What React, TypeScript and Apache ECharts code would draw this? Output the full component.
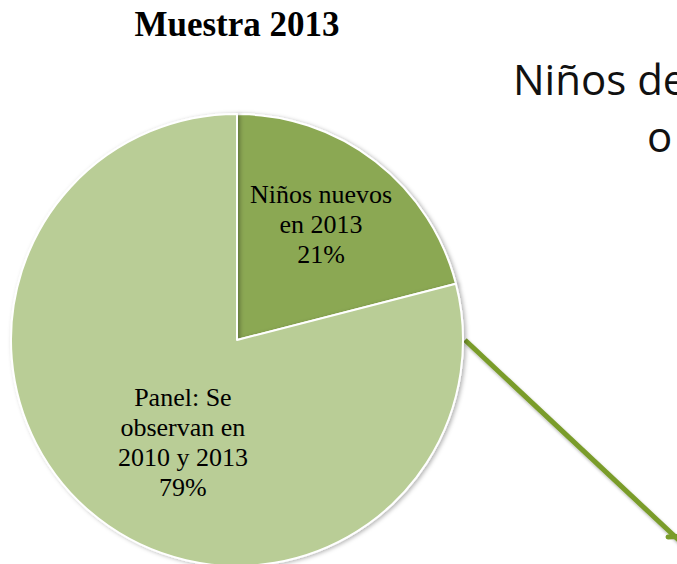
import React, { useEffect, useRef } from "react";
import * as echarts from "echarts";

const categories = ["Niños nuevos\nen 2013", "Panel: Se\nobservan en\n2010 y 2013"];
const values = [21, 79];
const colors = ["#8BA852", "#B9CD96"];
const labelOffsets = [[13, -24], [17, 11]];

export default function App() {
  const ref = useRef<HTMLDivElement>(null);
  useEffect(() => {
    if (!ref.current) return;
    const chart = echarts.init(ref.current, undefined, { renderer: "svg" });
    chart.setOption({
      animation: false,
      backgroundColor: "#ffffff",
      graphic: [
        {
          type: "text",
          x: 237,
          y: 24,
          style: {
            text: "Muestra 2013",
            fontFamily: "'Liberation Serif', 'Times New Roman', serif",
            fontWeight: "bold",
            fontSize: 35,
            fill: "#000",
            textAlign: "center",
            textVerticalAlign: "middle",
          },
        },
        {
          type: "text",
          x: 513,
          y: 78,
          style: {
            text: "Niños de",
            fontFamily: "'Open Sans', sans-serif",
            fontSize: 42,
            fill: "#111",
            textAlign: "left",
            textVerticalAlign: "middle",
          },
        },
        {
          type: "text",
          x: 647,
          y: 135,
          style: {
            text: "o",
            fontFamily: "'Open Sans', sans-serif",
            fontSize: 42,
            fill: "#111",
            textAlign: "left",
            textVerticalAlign: "middle",
          },
        },
        {
          type: "line",
          shape: { x1: 465, y1: 340, x2: 700, y2: 560 },
          style: {
            stroke: "#7A9C2B",
            lineWidth: 5,
            shadowBlur: 3,
            shadowColor: "rgba(0,0,0,0.3)",
            shadowOffsetX: 1,
            shadowOffsetY: 2,
          },
        },
        {
          type: "line",
          shape: { x1: 668, y1: 537, x2: 690, y2: 536 },
          style: {
            stroke: "#7A9C2B",
            lineWidth: 5,
            lineCap: "round",
          },
        },
      ],
      series: [
        {
          type: "pie",
          center: [237, 340],
          radius: 226,
          startAngle: 90,
          clockwise: true,
          data: categories.map((name, i) => ({
            name,
            value: values[i],
            itemStyle: { color: colors[i] },
            label: { offset: labelOffsets[i] },
          })),
          itemStyle: {
            borderColor: "#ffffff",
            borderWidth: 2,
            shadowBlur: 4,
            shadowColor: "rgba(0,0,0,0.3)",
            shadowOffsetX: 2,
            shadowOffsetY: 1,
          },
          label: {
            show: true,
            position: "inside",
            formatter: (p: any) => `${p.name}\n${p.value}%`,
            fontFamily: "'Liberation Serif', 'Times New Roman', serif",
            fontSize: 26,
            lineHeight: 30,
            color: "#000",
            align: "center",
          },
          labelLine: { show: false },
          emphasis: { disabled: true },
        },
      ],
    });
    return () => chart.dispose();
  }, []);
  return (
    <div
      ref={ref}
      style={{ position: "absolute", left: 0, top: 0, width: 677, height: 564 }}
    />
  );
}
